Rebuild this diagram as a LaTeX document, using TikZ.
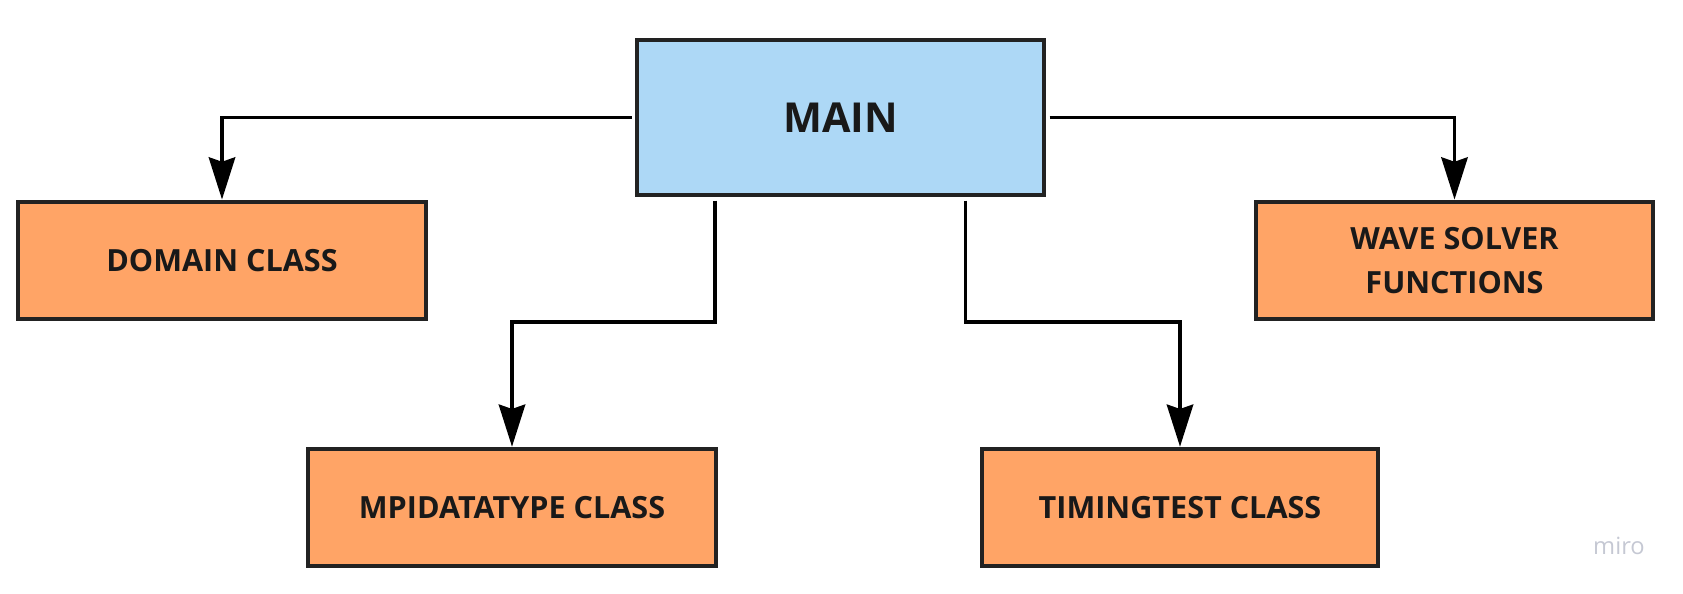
\documentclass[tikz,border=0pt]{standalone}
\usepackage{fontspec}
\setmainfont{Open Sans}
\usepackage{tikz}
\usetikzlibrary{positioning}
\usetikzlibrary{arrows.meta}
\definecolor{boxorange}{HTML}{FFA466}
\definecolor{boxblue}{HTML}{ADD8F6}
\definecolor{boxline}{HTML}{222222}
\definecolor{mirogray}{HTML}{C5C8D3}

\begin{document}
\begin{tikzpicture}[x=0.02cm,y=-0.02cm,
  box/.style={draw=boxline,line width=2.3pt,fill=boxorange,minimum height=2.35cm,align=center,
    text=black!90,font=\fontsize{17.4}{25}\selectfont\bfseries},
  mainbox/.style={box,fill=boxblue,minimum width=8.14cm,minimum height=3.1cm,font=\fontsize{23.5}{28}\selectfont\bfseries},
  link/.style={line width=2.1pt,-{Stealth[length=24pt,width=15pt,inset=2.5pt]},shorten <=2pt}]
\useasboundingbox (0,0) rectangle (1683,594);
\node[mainbox] (main) at (840.5,117.5) {MAIN};
\node[box,minimum width=8.16cm] (domain) at (222,260.3) {DOMAIN CLASS};
\node[box,minimum width=7.94cm] (wave) at (1454.5,260.3) {WAVE SOLVER\\FUNCTIONS};
\node[box,minimum width=8.16cm] (mpi) at (512,507.5) {MPIDATATYPE CLASS};
\node[box,minimum width=7.92cm] (timing) at (1180,507.5) {TIMINGTEST CLASS};
\node[text=mirogray,font=\fontsize{13.5}{15}\selectfont] (miro) at (1619,546) {miro};
\coordinate (mpibend) at (715,322);
\coordinate (timingbend) at (965.5,322);
\draw[link] (main.west) -| (domain.north);
\draw[link] (main.east) -| (wave.north);
\draw[link] (main.south -| mpibend) -- (mpibend) -| (mpi.north);
\draw[link] (main.south -| timingbend) -- (timingbend) -| (timing.north);
\end{tikzpicture}
\end{document}
